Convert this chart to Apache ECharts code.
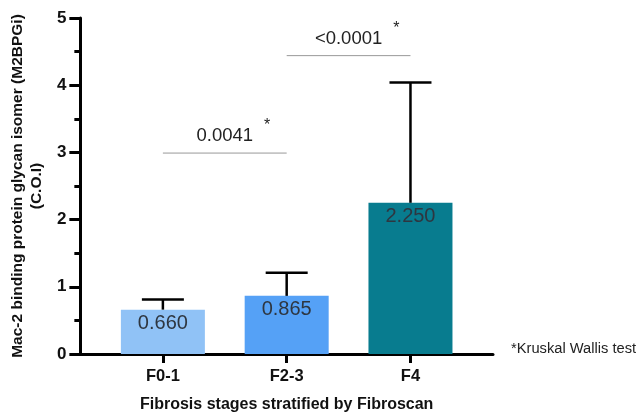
<!DOCTYPE html>
<html>
<head>
<meta charset="utf-8">
<script src="https://cdn.jsdelivr.net/npm/echarts@6/dist/echarts.min.js"></script>
<style>html,body{margin:0;padding:0;background:#fff}#c{width:636px;height:418px}</style>
</head>
<body>
<div id="c"></div>
<script>
const categories = ['F0-1', 'F2-3', 'F4'];
const means = [0.660, 0.865, 2.250];
const upperErr = [0.81, 1.21, 4.04];
const barColors = ['#90C2F6', '#55A1F6', '#087C8F'];
const yTicks = [0, 1, 2, 3, 4, 5];
const pLabels = ['0.0041', '<0.0001'];
const pFrom = [1, 2];
const pTo = [2, 3];
const pLevel = [2.99, 4.44];

const FONT = '"Liberation Sans", Arial, sans-serif';
const xPos = categories.map((c, i) => i + 1);

const mctx = document.createElement('canvas').getContext('2d');
function tw(t, size) { mctx.font = size + 'px "Liberation Sans", Arial'; return mctx.measureText(t).width; }

const chart = echarts.init(document.getElementById('c'), null, {renderer: 'canvas'});
chart.setOption({
  animation: false,
  backgroundColor: '#fff',
  grid: {left: 77, right: 143, top: 18, bottom: 59, containLabel: false},
  xAxis: {
    type: 'value', min: 1/3, max: 11/3,
    splitLine: {show: false},
    axisLine: {show: true, onZero: false, lineStyle: {color: '#000', width: 3}},
    axisTick: {show: true, customValues: xPos, length: 9, lineStyle: {color: '#000', width: 3}},
    axisLabel: {customValues: xPos, formatter: v => categories[Math.round(v) - 1] || '', margin: 14,
      fontFamily: FONT, fontWeight: 'bold', fontSize: 16.5, color: '#111'},
    name: 'Fibrosis stages stratified by Fibroscan', nameLocation: 'middle', nameGap: 43,
    nameTextStyle: {fontFamily: FONT, fontWeight: 'bold', fontSize: 16, color: '#111'}
  },
  yAxis: {
    type: 'value', min: 0, max: 5, interval: 1,
    splitLine: {show: false},
    axisLine: {show: true, lineStyle: {color: '#000', width: 3}},
    axisTick: {show: true, length: 11, lineStyle: {color: '#000', width: 3}},
    minorTick: {show: true, splitNumber: 2, length: 6, lineStyle: {color: '#000', width: 3}},
    axisLabel: {margin: 14, fontFamily: FONT, fontWeight: 'bold', fontSize: 17, color: '#111',
      formatter: v => yTicks.includes(v) ? String(v) : ''},
    name: 'Mac-2 binding protein glycan isomer (M2BPGi)\n(C.O.I)', nameLocation: 'middle', nameGap: 33,
    nameTextStyle: {fontFamily: FONT, fontWeight: 'bold', fontSize: 15.5, color: '#111', lineHeight: 19}
  },
  series: [
    {
      type: 'bar', barWidth: 84,
      data: xPos.map((x, i) => ({value: [x, means[i]], itemStyle: {color: barColors[i]}})),
      label: {show: true, position: 'insideTop', distance: 4, fontFamily: FONT, fontSize: 20, color: '#2e3640',
        formatter: p => means[p.dataIndex].toFixed(3)}
    },
    {
      type: 'custom', z: 5,
      data: xPos.map((x, i) => [x, means[i], upperErr[i]]),
      renderItem: (params, api) => {
        const b = api.coord([api.value(0), api.value(1)]);
        const t = api.coord([api.value(0), api.value(2)]);
        const half = 21;
        const st = {stroke: '#000', lineWidth: 2.5};
        return {type: 'group', children: [
          {type: 'line', shape: {x1: b[0], y1: b[1], x2: t[0], y2: t[1]}, style: st},
          {type: 'line', shape: {x1: t[0] - half, y1: t[1], x2: t[0] + half, y2: t[1]}, style: st}
        ]};
      }
    },
    {
      type: 'custom', z: 5,
      data: pLabels.map((l, i) => [pFrom[i], pTo[i], pLevel[i]]),
      renderItem: (params, api) => {
        const a = api.coord([api.value(0), api.value(2)]);
        const b = api.coord([api.value(1), api.value(2)]);
        const txt = pLabels[params.dataIndex];
        const cx = (a[0] + b[0]) / 2;
        const w = tw(txt, 18.5);
        return {type: 'group', children: [
          {type: 'line', shape: {x1: a[0], y1: a[1], x2: b[0], y2: b[1]}, style: {stroke: '#999', lineWidth: 1}},
          {type: 'text', x: cx, y: a[1] - 17, style: {text: txt, fontFamily: FONT, fontSize: 18.5, fill: '#222', align: 'center', verticalAlign: 'middle'}},
          {type: 'text', x: cx + w / 2 + 14, y: a[1] - 27, style: {text: '*', fontFamily: FONT, fontSize: 16, fill: '#222', align: 'center', verticalAlign: 'middle'}}
        ]};
      }
    }
  ],
  graphic: [
    {type: 'text', left: 511, top: 341, style: {text: '*Kruskal Wallis test', fontFamily: FONT, fontSize: 14.7, fill: '#222'}}
  ]
});
</script>
</body>
</html>
